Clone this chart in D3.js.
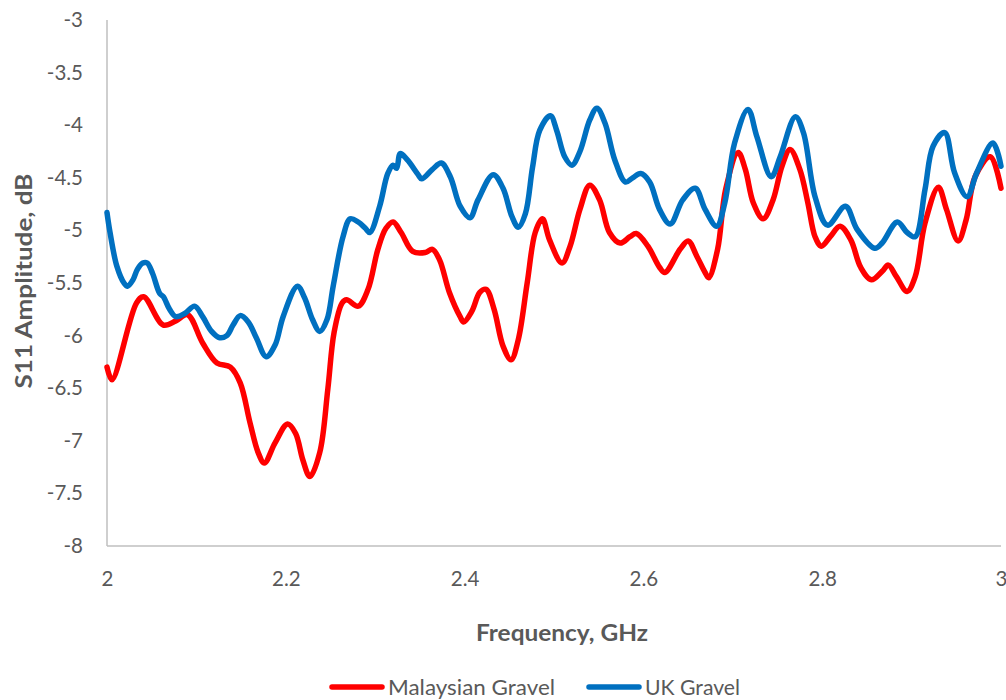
<!DOCTYPE html>
<html><head><meta charset="utf-8">
<script src="https://cdn.jsdelivr.net/npm/d3@7"></script>
<style>body{margin:0;background:#fff}</style>
</head><body><svg id="c" width="1006" height="700"></svg>
<script>
const xTicks = [2, 2.2, 2.4, 2.6, 2.8, 3];
const yTicks = [-3, -3.5, -4, -4.5, -5, -5.5, -6, -6.5, -7, -7.5, -8];
const seriesNames = ["Malaysian Gravel", "UK Gravel"];
const seriesColors = ["#FF0000", "#0070C0"];

const malaysianFreq = [2.0,2.0056,2.033,2.041,2.063,2.077,2.09,2.107,2.123,2.138,2.149,2.16,2.169,2.176,2.188,2.202,2.211,2.219,2.227,2.238,2.247,2.254,2.263,2.268,2.281,2.292,2.303,2.312,2.32,2.329,2.342,2.356,2.364,2.372,2.383,2.395,2.399,2.408,2.417,2.424,2.433,2.443,2.452,2.46,2.47,2.479,2.487,2.495,2.509,2.518,2.529,2.540,2.551,2.562,2.574,2.585,2.592,2.605,2.618,2.624,2.641,2.65,2.66,2.669,2.673,2.683,2.692,2.706,2.714,2.723,2.734,2.745,2.755,2.764,2.775,2.784,2.792,2.799,2.809,2.82,2.832,2.843,2.855,2.867,2.874,2.883,2.895,2.904,2.915,2.93,2.939,2.952,2.961,2.971,2.988,3.0];
const malaysianVal = [-6.30,-6.42,-5.69,-5.63,-5.90,-5.86,-5.80,-6.07,-6.26,-6.30,-6.45,-6.83,-7.11,-7.21,-7.02,-6.84,-6.93,-7.18,-7.34,-7.11,-6.51,-5.97,-5.69,-5.66,-5.72,-5.56,-5.18,-4.98,-4.92,-5.02,-5.20,-5.21,-5.18,-5.28,-5.59,-5.82,-5.87,-5.77,-5.59,-5.56,-5.75,-6.10,-6.23,-6.04,-5.50,-5.02,-4.89,-5.09,-5.31,-5.15,-4.80,-4.57,-4.71,-5.02,-5.12,-5.06,-5.03,-5.15,-5.35,-5.40,-5.18,-5.10,-5.25,-5.40,-5.45,-5.18,-4.61,-4.26,-4.42,-4.74,-4.89,-4.71,-4.39,-4.23,-4.42,-4.74,-5.06,-5.15,-5.06,-4.96,-5.09,-5.35,-5.47,-5.39,-5.33,-5.44,-5.58,-5.44,-4.93,-4.59,-4.80,-5.10,-4.90,-4.49,-4.30,-4.60];

const ukFreq = [2.0,2.0034,2.011,2.019,2.023,2.029,2.034,2.040,2.045,2.051,2.059,2.063,2.07,2.077,2.087,2.098,2.107,2.117,2.126,2.134,2.141,2.149,2.158,2.167,2.178,2.188,2.197,2.213,2.221,2.230,2.238,2.246,2.253,2.264,2.272,2.281,2.289,2.294,2.305,2.314,2.32,2.324,2.328,2.336,2.348,2.352,2.364,2.374,2.384,2.395,2.406,2.415,2.432,2.443,2.453,2.46,2.468,2.476,2.484,2.496,2.503,2.512,2.52,2.529,2.54,2.548,2.557,2.568,2.58,2.588,2.597,2.607,2.618,2.63,2.644,2.658,2.669,2.682,2.691,2.702,2.717,2.727,2.743,2.753,2.77,2.779,2.792,2.806,2.826,2.839,2.859,2.867,2.884,2.895,2.904,2.915,2.924,2.937,2.948,2.962,2.973,2.991,3.0];
const ukVal = [-4.83,-5.02,-5.34,-5.50,-5.53,-5.47,-5.37,-5.31,-5.31,-5.41,-5.60,-5.63,-5.75,-5.82,-5.79,-5.72,-5.82,-5.96,-6.02,-6.00,-5.90,-5.81,-5.87,-6.02,-6.20,-6.09,-5.82,-5.53,-5.64,-5.85,-5.96,-5.85,-5.53,-5.06,-4.89,-4.92,-4.98,-5.02,-4.77,-4.46,-4.38,-4.41,-4.27,-4.33,-4.47,-4.51,-4.42,-4.36,-4.49,-4.77,-4.88,-4.71,-4.47,-4.60,-4.87,-4.97,-4.84,-4.40,-4.05,-3.91,-4.05,-4.30,-4.38,-4.25,-3.95,-3.84,-3.98,-4.33,-4.54,-4.50,-4.46,-4.54,-4.80,-4.94,-4.71,-4.60,-4.80,-4.96,-4.74,-4.17,-3.85,-4.11,-4.49,-4.30,-3.92,-4.07,-4.68,-4.95,-4.77,-4.99,-5.17,-5.12,-4.92,-5.02,-5.06,-4.61,-4.20,-4.07,-4.45,-4.68,-4.45,-4.17,-4.39];

const svg = d3.select("#c");
const L = 107, R = 1001, T = 20, B = 546;
const x = d3.scaleLinear().domain([2, 3]).range([L, R]);
const y = d3.scaleLinear().domain([-8, -3]).range([B, T]);
const font = "Lato, 'Open Sans', sans-serif";

// axes
svg.append("line").attr("x1", L).attr("x2", L).attr("y1", T).attr("y2", B)
  .attr("stroke", "#BFBFBF").attr("stroke-width", 1.5);
svg.append("line").attr("x1", L).attr("x2", R).attr("y1", B).attr("y2", B)
  .attr("stroke", "#BFBFBF").attr("stroke-width", 1.5);

const yAxis = d3.axisLeft(y).tickValues(yTicks).tickSize(0).tickPadding(24).tickFormat(d => String(d));
const gy = svg.append("g").attr("transform", `translate(${L},0)`).call(yAxis);
gy.select(".domain").remove();
gy.selectAll("text").attr("font-family", font).attr("font-size", 20.5).attr("fill", "#595959");

const xAxis = d3.axisBottom(x).tickValues(xTicks).tickSize(0).tickPadding(25).tickFormat(d => String(d));
const gx = svg.append("g").attr("transform", `translate(0,${B})`).call(xAxis);
gx.select(".domain").remove();
gx.selectAll("text").attr("font-family", font).attr("font-size", 20.5).attr("fill", "#595959");

// titles
svg.append("text").attr("x", 562).attr("y", 641).attr("text-anchor", "middle")
  .attr("font-family", font).attr("font-size", 22).attr("font-weight", "bold").attr("fill", "#595959")
  .attr("textLength", 172).attr("lengthAdjust", "spacingAndGlyphs")
  .text("Frequency, GHz");
svg.append("text").attr("transform", `translate(32,281) rotate(-90)`).attr("text-anchor", "middle")
  .attr("font-family", font).attr("font-size", 22).attr("font-weight", "bold").attr("fill", "#595959")
  .attr("textLength", 215).attr("lengthAdjust", "spacingAndGlyphs")
  .text("S11 Amplitude, dB");

// lines
const line = d3.line().x(d => x(d[0])).y(d => y(d[1])).curve(d3.curveCatmullRom.alpha(0.5));
const data = [d3.zip(malaysianFreq, malaysianVal), d3.zip(ukFreq, ukVal)];
data.forEach((d, i) => {
  svg.append("path").datum(d).attr("d", line).attr("fill", "none")
    .attr("stroke", seriesColors[i]).attr("stroke-width", 5.5)
    .attr("stroke-linejoin", "round").attr("stroke-linecap", "round");
});

// legend
const legX = [332, 589];
const legW = [167, 95];
seriesNames.forEach((n, i) => {
  svg.append("line").attr("x1", legX[i]).attr("x2", legX[i] + 50).attr("y1", 687).attr("y2", 687)
    .attr("stroke", seriesColors[i]).attr("stroke-width", 5.5).attr("stroke-linecap", "round");
  svg.append("text").attr("x", legX[i] + 56).attr("y", 695).attr("font-family", font)
    .attr("font-size", 22).attr("fill", "#595959")
    .attr("textLength", legW[i]).attr("lengthAdjust", "spacingAndGlyphs").text(n);
});
</script></body></html>
